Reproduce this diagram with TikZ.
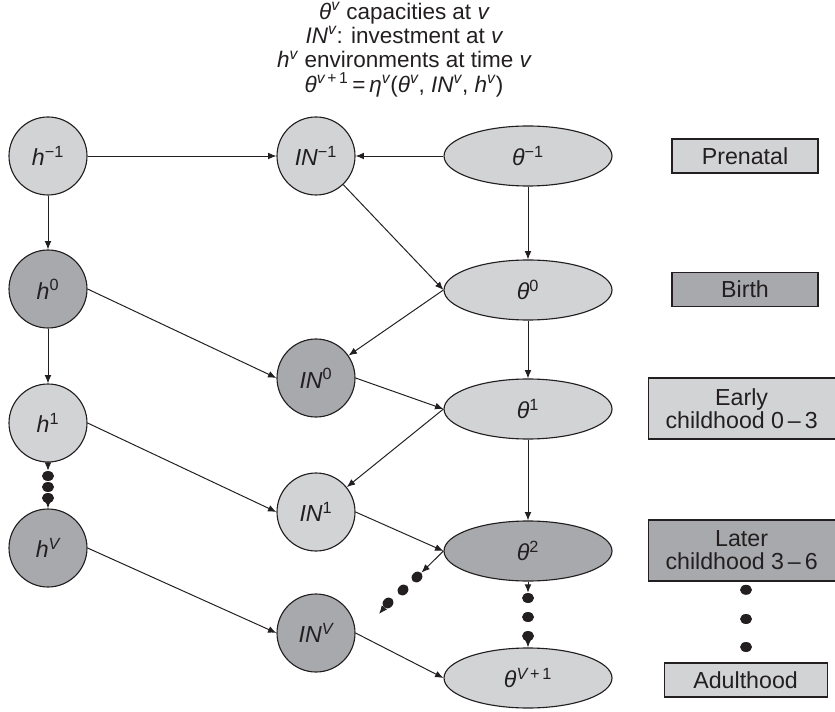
\documentclass[tikz,border=0pt]{standalone}
\usepackage{fontspec}
\setmainfont{Liberation Sans}
\usepackage{tikz}
\usetikzlibrary{arrows.meta,positioning,shapes.geometric}
\definecolor{paleg}{RGB}{210,211,213}
\definecolor{darkg}{RGB}{167,169,172}
\definecolor{inkg}{RGB}{35,31,32}
\newcommand{\lbl}[2]{{\itshape #1}\textsuperscript{#2}}
\tikzset{
  hnode/.style={
    circle,
    draw=inkg,
    line width=0.8pt,
    minimum size=1.95cm,
    inner sep=0pt
  },
  thetanode/.style={
    ellipse,
    draw=inkg,
    line width=0.8pt,
    minimum width=4.2cm,
    minimum height=1.5cm,
    inner sep=0pt
  },
  stagebox/.style={
    rectangle,
    draw=inkg,
    line width=0.8pt,
    align=center,
    inner sep=0pt,
    minimum height=0.85cm
  },
  light/.style={fill=paleg},
  dark/.style={fill=darkg},
  dotnode/.style={
    ellipse,
    fill=inkg,
    minimum width=0.3cm,
    minimum height=0.25cm,
    inner sep=0pt
  },
  connection/.style={
    line width=0.7pt,
    draw=inkg,
    -{Latex[length=2.1mm,width=1.7mm]}
  }
}

\begin{document}
\begin{tikzpicture}[every node/.style={font=\fontsize{16.5pt}{16.3pt}\selectfont, text=inkg}]
  \useasboundingbox (0,0) rectangle (20.875,17.775);

  % Legend on top
  \node[align=center, inner sep=0pt, anchor=north, font=\fontsize{16pt}{17.2pt}\selectfont] (legend) at (10.1,17.72) {%
    \lbl{θ}{\itshape v} capacities at {\itshape v}\\
    \lbl{IN}{\itshape v}: investment at {\itshape v}\\
    \lbl{h}{\itshape v} environments at time {\itshape v}\\
    \lbl{θ}{{\itshape v}\,+\,1}\,=\,\lbl{η}{\itshape v}(\lbl{θ}{\itshape v}, \lbl{IN}{\itshape v}, \lbl{h}{\itshape v})};

  % Environments
  \node[hnode, light] (hm1) at (1.2,13.875) {\lbl{h}{−1}};
  \node[hnode, dark]  (h0)  at (1.2,10.55) {\lbl{h}{0}};
  \node[hnode, light] (h1)  at (1.2,7.2) {\lbl{h}{1}};
  \node[hnode, dark]  (hV)  at (1.2,4.075) {\lbl{h}{\itshape V}};

  % Investments
  \node[hnode, light] (inm1) at (7.9,13.875) {\lbl{IN}{−1}};
  \node[hnode, dark]  (in0)  at (7.9,8.325) {\lbl{IN}{0}};
  \node[hnode, light] (in1)  at (7.9,4.975) {\lbl{IN}{1}};
  \node[hnode, dark]  (inV)  at (7.9,1.95) {\lbl{IN}{\itshape V}};

  % Capacities
  \node[thetanode, light] (tm1) at (13.2,13.875) {\lbl{θ}{−1}};
  \node[thetanode, light] (t0)  at (13.2,10.525) {\lbl{θ}{0}};
  \node[thetanode, light] (t1)  at (13.2,7.55) {\lbl{θ}{1}};
  \node[thetanode, dark]  (t2)  at (13.2,4.0) {\lbl{θ}{2}};
  \node[thetanode, light] (tV)  at (13.2,0.825) {\lbl{θ}{{\itshape V}\,+\,1}};

  % Stages
  \node[stagebox, light, minimum width=3.65cm] (prenatal) at (18.625,13.875) {Prenatal};
  \node[stagebox, dark, minimum width=3.65cm] (birth) at (18.625,10.5375) {Birth};
  \node[stagebox, light, minimum width=4.675cm, minimum height=1.525cm] (early) at (18.54,7.5625) {Early\\childhood 0\,–\,3};
  \node[stagebox, dark, minimum width=4.675cm, minimum height=1.525cm] (later) at (18.54,4.0125) {Later\\childhood 3\,–\,6};
  \node[stagebox, light, minimum width=4.075cm] (adult) at (18.64,0.775) {Adulthood};

  % Ellipsis dots
  \node[dotnode] (hd1) at (1.2,5.875) {};
  \node[dotnode] (hd2) at (1.2,5.6) {};
  \node[dotnode] (hd3) at (1.2,5.325) {};
  \node[dotnode] (td1) at (13.2,2.825) {};
  \node[dotnode] (td2) at (13.2,2.35) {};
  \node[dotnode] (td3) at (13.2,1.875) {};
  \node[dotnode] (sd1) at (18.65,3.03) {};
  \node[dotnode] (sd2) at (18.65,2.3) {};
  \node[dotnode] (sd3) at (18.65,1.6) {};
  \node[dotnode, rotate=44] (dd1) at (10.425,3.35) {};
  \node[dotnode, rotate=44] (dd2) at (10.075,3.025) {};
  \node[dotnode, rotate=44] (dd3) at (9.7,2.7) {};
  \coordinate (dend) at (9.475,2.425);

  % Prenatal row
  \draw[connection] (hm1) -- (inm1);
  \draw[connection] (tm1) -- (inm1);
  \draw[connection] (hm1) -- (h0);
  \draw[connection] (inm1) -- (t0.west);
  \draw[connection] (tm1) -- (t0);

  % Birth row
  \draw[connection] (h0.east) -- (in0.west);
  \draw[connection] (t0.west) -- (in0);
  \draw[connection] (h0) -- (h1);
  \draw[connection] (in0.east) -- (t1.west);
  \draw[connection] (t0) -- (t1);

  % Childhood
  \draw[connection] (h1.east) -- (in1.west);
  \draw[connection] (t1.west) -- (in1);
  \draw[connection] (h1) -- (hd1);
  \draw[connection] (hd3) -- (hV);
  \draw[connection] (in1.east) -- (t2.west);
  \draw[connection] (t1) -- (t2);
  \draw[connection] (t2.west) -- (dd1);
  \draw[connection] (dd3) -- (dend);
  \draw[connection] (t2) -- (td1);
  \draw[connection] (td3) -- (tV);

  % Adulthood
  \draw[connection] (hV.east) -- (inV.west);
  \draw[connection] (inV.east) -- (tV.west);
\end{tikzpicture}
\end{document}
